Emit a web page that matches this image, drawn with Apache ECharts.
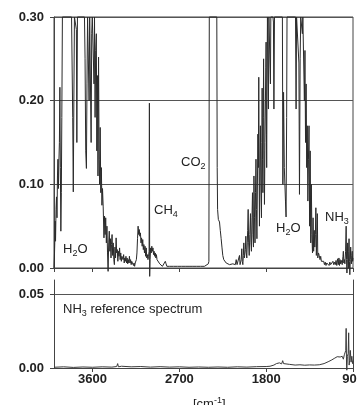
<!DOCTYPE html>
<html><head><meta charset="utf-8">
<script src="https://cdn.jsdelivr.net/npm/echarts@6/dist/echarts.min.js"></script>
<style>html,body{margin:0;padding:0;background:#fff}#c{width:357px;height:405px}</style>
</head><body><div id="c"></div>
<script>
// Sample spectrum (wavenumber cm-1, absorbance). 0.30 = off scale (saturated).
const h2oStretchBand = [
[4000,0.000],[3996,0.012],[3992,0.030],[3988,0.056],[3984,0.032],[3979,0.070],[3974,0.085],[3969,0.060],
[3964,0.110],[3959,0.130],[3954,0.095],[3949,0.128],[3944,0.150],[3939,0.216],[3934,0.120],[3929,0.044],
[3924,0.090],[3919,0.180],[3913,0.300],[3818,0.300],[3812,0.300],[3806,0.180],[3800,0.091],[3794,0.200],
[3788,0.300],[3774,0.300],[3768,0.285],[3763,0.150],[3757,0.300],[3684,0.300],[3678,0.250],[3671,0.140],
[3664,0.119],[3658,0.220],[3652,0.300],[3642,0.300],[3636,0.200],[3630,0.300],[3620,0.300],[3615,0.150],
[3609,0.280],[3603,0.300],[3590,0.300],[3585,0.220],[3580,0.300],[3574,0.180],[3568,0.260],[3561,0.280],
[3556,0.140],[3550,0.230],[3544,0.110],[3538,0.252],[3532,0.130],[3527,0.100],[3521,0.168],[3515,0.090],
[3509,0.120],[3503,0.075],[3497,0.095],[3490,0.073],[3482,0.036],[3476,0.062],[3470,0.040],[3464,0.060],
[3457,0.030],[3451,0.050],[3445,0.018],[3439,-0.004],[3433,0.030],[3427,0.044],[3421,0.020],[3415,0.035],
[3409,0.012],[3404,0.028],[3398,0.040],[3392,0.015],[3386,0.030],[3380,0.010],[3374,0.004],[3368,0.025],
[3362,0.012],[3356,0.036],[3350,0.018],[3344,0.022],[3338,0.008],[3332,0.020],[3326,0.014],[3320,0.024],
[3314,0.010],[3308,0.018],[3302,0.008],[3296,0.014],[3290,0.016],[3284,0.010],[3278,0.016],[3272,0.006],
[3266,0.012],[3260,0.008],[3254,0.014],[3248,0.006],[3242,0.012],[3236,0.005],[3230,0.010],[3224,0.006],
[3218,0.014],[3212,0.006],[3206,0.010],[3200,0.004],[3194,0.008],[3188,0.006],[3182,0.008],[3176,0.003],
[3170,0.006],[3164,0.002],[3158,0.006],[3152,0.004]
];
const ch4Region = [
[3146,0.010],[3140,0.018],[3134,0.035],[3128,0.050],[3122,0.040],[3116,0.046],[3110,0.038],[3104,0.042],
[3098,0.030],[3092,0.036],[3086,0.026],[3080,0.034],[3074,0.022],[3068,0.028],[3062,0.018],[3056,0.026],
[3050,0.014],[3044,0.024],[3038,0.012],[3032,0.016],[3026,0.010],[3020,0.014],[3014,0.020],[3011,0.197],
[3008,-0.010],[3004,0.010],[2998,0.024],[2992,0.018],[2986,0.026],[2980,0.020],[2974,0.024],[2968,0.016],
[2962,0.020],[2956,0.014],[2950,0.018],[2944,0.012],[2938,0.016],[2932,0.010],[2926,0.012],[2920,0.008],
[2912,0.008],[2904,0.005],[2896,0.004],[2886,0.003],[2876,0.002],[2866,0.002],[2856,0.004],[2846,0.008],
[2838,0.005],[2830,0.002],[2820,0.003],[2800,0.002],[2780,0.003],[2760,0.002],[2740,0.003],[2720,0.002],
[2700,0.003],[2680,0.002],[2660,0.003],[2640,0.002],[2620,0.003],[2600,0.002],[2580,0.003],[2560,0.002],
[2540,0.003],[2520,0.002],[2500,0.003],[2480,0.002],[2460,0.003],[2440,0.002],[2420,0.004],[2400,0.005]
];
const co2Band = [
[2394,0.008],[2390,0.300],[2312,0.300],[2308,0.120],[2304,0.070],[2296,0.058],[2284,0.055],[2276,0.045],
[2267,0.035],[2258,0.024],[2250,0.015],[2240,0.010],[2232,0.008],[2215,0.006],[2198,0.005],[2180,0.004],
[2163,0.004],[2146,0.005],[2129,0.006],[2120,0.004],[2111,0.010],[2102,0.004],[2094,0.006],[2085,0.003],
[2077,0.015],[2071,0.004],[2066,0.005],[2059,0.010],[2053,0.023],[2048,0.008],[2042,0.004],[2037,0.015],
[2032,0.030],[2026,0.012],[2021,0.010],[2016,0.022],[2011,0.038],[2006,0.018],[2001,0.012]
];
const h2oBendBand = [
[1996,0.030],[1992,0.045],[1987,0.070],[1982,0.030],[1976,0.015],[1970,0.040],[1963,0.065],[1958,0.030],
[1953,0.020],[1947,0.060],[1942,0.090],[1937,0.040],[1932,0.025],[1927,0.110],[1921,0.060],[1916,0.030],
[1911,0.090],[1906,0.130],[1901,0.070],[1896,0.035],[1891,0.100],[1886,0.160],[1881,0.120],[1877,0.228],
[1873,0.110],[1870,0.050],[1865,0.120],[1860,0.170],[1855,0.100],[1849,0.060],[1845,0.150],[1842,0.215],
[1838,0.130],[1834,0.090],[1830,0.180],[1827,0.250],[1822,0.140],[1818,0.076],[1813,0.150],[1808,0.200],
[1804,0.240],[1801,0.270],[1797,0.160],[1795,0.120],[1791,0.220],[1787,0.300],[1781,0.300],[1777,0.190],
[1772,0.300],[1760,0.300],[1756,0.220],[1752,0.300],[1730,0.300],[1725,0.294],[1720,0.190],[1714,0.300],
[1632,0.300],[1627,0.100],[1620,0.210],[1612,0.120],[1600,0.080],[1594,0.061],[1588,0.180],[1584,0.300],
[1496,0.300],[1490,0.190],[1485,0.300],[1466,0.300],[1461,0.245],[1455,0.088],[1448,0.250],[1442,0.300],
[1430,0.300],[1425,0.280],[1420,0.300],[1410,0.300],[1404,0.200],[1398,0.260],[1392,0.150],[1386,0.220],
[1380,0.120],[1374,0.170],[1368,0.080],[1362,0.130],[1356,0.170],[1350,0.050],[1344,0.140],[1338,0.030],
[1332,0.100],[1326,0.040],[1320,0.018],[1314,0.060],[1308,0.020],[1302,0.045],[1296,0.025],[1290,0.040],
[1285,0.072],[1280,0.015],[1274,0.040],[1270,0.065],[1265,0.012],[1258,0.018],[1250,0.015],[1242,0.010]
];
const nh3Region = [
[1235,0.014],[1228,0.008],[1220,0.010],[1212,0.006],[1204,0.008],[1196,0.004],[1188,0.007],[1180,0.003],
[1172,0.006],[1164,0.004],[1156,0.006],[1148,0.003],[1140,0.007],[1132,0.004],[1124,0.006],[1116,0.003],
[1108,0.008],[1100,0.004],[1092,0.007],[1084,0.004],[1076,0.009],[1068,0.003],[1060,0.011],[1052,0.004],
[1046,0.012],[1040,0.003],[1034,0.010],[1028,0.005],[1020,0.009],[1012,0.004],[1004,0.014],[1000,0.020],
[995,0.006],[989,0.010],[984,0.005],[977,0.020],[971,0.050],[967,0.010],[963,-0.006],[959,0.010],
[955,0.030],[951,0.010],[948,0.000],[944,0.020],[941,0.035],[937,0.008],[933,-0.008],[928,0.010],
[924,0.025],[920,0.012],[916,0.005],[912,0.015],[908,0.020],[904,0.008],[900,0.012]
];
// NH3 reference spectrum
const nh3Reference = [
[4000,0.0005],[3900,0.0008],[3800,0.0004],[3700,0.0007],[3600,0.0005],[3500,0.0008],[3400,0.0006],
[3350,0.0010],[3340,0.0030],[3332,0.0008],[3300,0.0012],[3200,0.0008],[3100,0.0010],[3000,0.0006],
[2900,0.0009],[2800,0.0006],[2700,0.0008],[2600,0.0005],[2500,0.0007],[2400,0.0005],[2300,0.0007],
[2200,0.0005],[2100,0.0008],[2000,0.0006],[1900,0.0009],[1800,0.0010],[1760,0.0012],[1720,0.0020],
[1694,0.0030],[1663,0.0035],[1640,0.0028],[1629,0.0050],[1620,0.0030],[1600,0.0025],[1560,0.0025],
[1500,0.0020],[1450,0.0022],[1400,0.0019],[1350,0.0021],[1300,0.0020],[1250,0.0022],[1200,0.0030],
[1150,0.0045],[1120,0.0055],[1095,0.0065],[1075,0.0060],[1064,0.0077],[1045,0.0068],[1033,0.0075],
[1020,0.0065],[1012,0.0080],[1000,0.0060],[990,0.0090],[975,0.0120],[971,0.0270],[967,0.0020],
[964,-0.0015],[958,0.0080],[950,0.0100],[945,0.0240],[940,0.0020],[935,0.0050],[928,0.0120],
[920,0.0040],[912,0.0080],[905,0.0030],[900,0.0050]
];
const xTickInterval = 900;           // ticks 3600, 2700, 1800, 900
const topYRange = [0, 0.30, 0.10];   // min, max, interval
const bottomYRange = [0, 0.06, 0.05];

const sampleSpectrum = [...h2oStretchBand, ...ch4Region, ...co2Band, ...h2oBendBand, ...nh3Region];

const FONT = 'Liberation Sans, Arial, sans-serif';
const AX = '#444';
const chart = echarts.init(document.getElementById('c'), null, {renderer: 'canvas'});

function xAxisCfg(gridIndex, showLabels) {
  return {
    type: 'value', gridIndex, min: 900, max: 4000, interval: xTickInterval, inverse: true,
    axisLine: {show: true, onZero: false, lineStyle: {color: AX, width: 1}},
    axisTick: {show: true, length: 4, lineStyle: {color: AX}},
    splitLine: {show: false},
    axisLabel: {show: showLabels, showMaxLabel: false, showMinLabel: true, margin: 5,
      alignMinLabel: 'center', alignMaxLabel: 'center', hideOverlap: false,
      formatter: v => String(v),
      fontFamily: FONT, fontSize: 13, fontWeight: 'bold', color: '#222'}
  };
}
const richText = {
  a: {fontFamily: FONT, fontSize: 13, lineHeight: 17, color: '#222'},
  s: {fontFamily: FONT, fontSize: 9, lineHeight: 9, verticalAlign: 'bottom', color: '#222'},
  u: {fontFamily: FONT, fontSize: 9, lineHeight: 9, verticalAlign: 'top', color: '#222'}
};
function label(x, y, text) {
  return {type: 'text', x, y, silent: true,
    style: {text, rich: richText, align: 'left', verticalAlign: 'top', fill: '#222'}};
}

chart.setOption({
  animation: false,
  backgroundColor: '#fff',
  grid: [
    {left: 54, right: 4, top: 17, height: 251, show: true, borderColor: AX, borderWidth: 1,
      backgroundColor: 'transparent', outerBoundsMode: 'none', containLabel: false},
    {left: 54, right: 4, top: 280, height: 88, outerBoundsMode: 'none', containLabel: false}
  ],
  xAxis: [xAxisCfg(0, false), xAxisCfg(1, true)],
  yAxis: [
    {type: 'value', gridIndex: 0, min: topYRange[0], max: topYRange[1], interval: topYRange[2],
      axisLine: {show: true, lineStyle: {color: AX}},
      axisTick: {show: true, length: 4, lineStyle: {color: AX}},
      splitLine: {show: true, lineStyle: {color: '#555', width: 1}},
      axisLabel: {margin: 10, formatter: v => v.toFixed(2), fontFamily: FONT, fontSize: 13, fontWeight: 'bold', color: '#222'}},
    {type: 'value', gridIndex: 1, min: bottomYRange[0], max: bottomYRange[1], interval: bottomYRange[2],
      axisLine: {show: true, lineStyle: {color: AX}},
      axisTick: {show: true, length: 4, lineStyle: {color: AX}},
      splitLine: {show: true, showMaxLine: false, lineStyle: {color: '#555', width: 1}},
      axisLabel: {margin: 10, showMaxLabel: false, formatter: v => v.toFixed(2), fontFamily: FONT, fontSize: 13, fontWeight: 'bold', color: '#222'}},
    {type: 'value', gridIndex: 1, position: 'right', min: bottomYRange[0], max: bottomYRange[1],
      axisLine: {show: true, lineStyle: {color: AX}}, axisTick: {show: false},
      axisLabel: {show: false}, splitLine: {show: false}}
  ],
  series: [
    {type: 'line', xAxisIndex: 0, yAxisIndex: 0, data: sampleSpectrum, showSymbol: false, clip: false,
      lineStyle: {color: '#2a2a2a', width: 1}, silent: true},
    {type: 'line', xAxisIndex: 1, yAxisIndex: 1, data: nh3Reference, showSymbol: false, clip: false,
      lineStyle: {color: '#3a3a3a', width: 1}, silent: true}
  ],
  graphic: [
    label(63, 241, '{a|H}{s|2}{a|O}'),
    label(154, 202, '{a|CH}{s|4}'),
    label(181, 154, '{a|CO}{s|2}'),
    label(276, 220, '{a|H}{s|2}{a|O}'),
    label(325, 209, '{a|NH}{s|3}'),
    label(63, 301, '{a|NH}{s|3}{a| reference spectrum}'),
    label(193, 396, '{a|[cm}{u|-1}{a|]}')
  ]
});
</script></body></html>
